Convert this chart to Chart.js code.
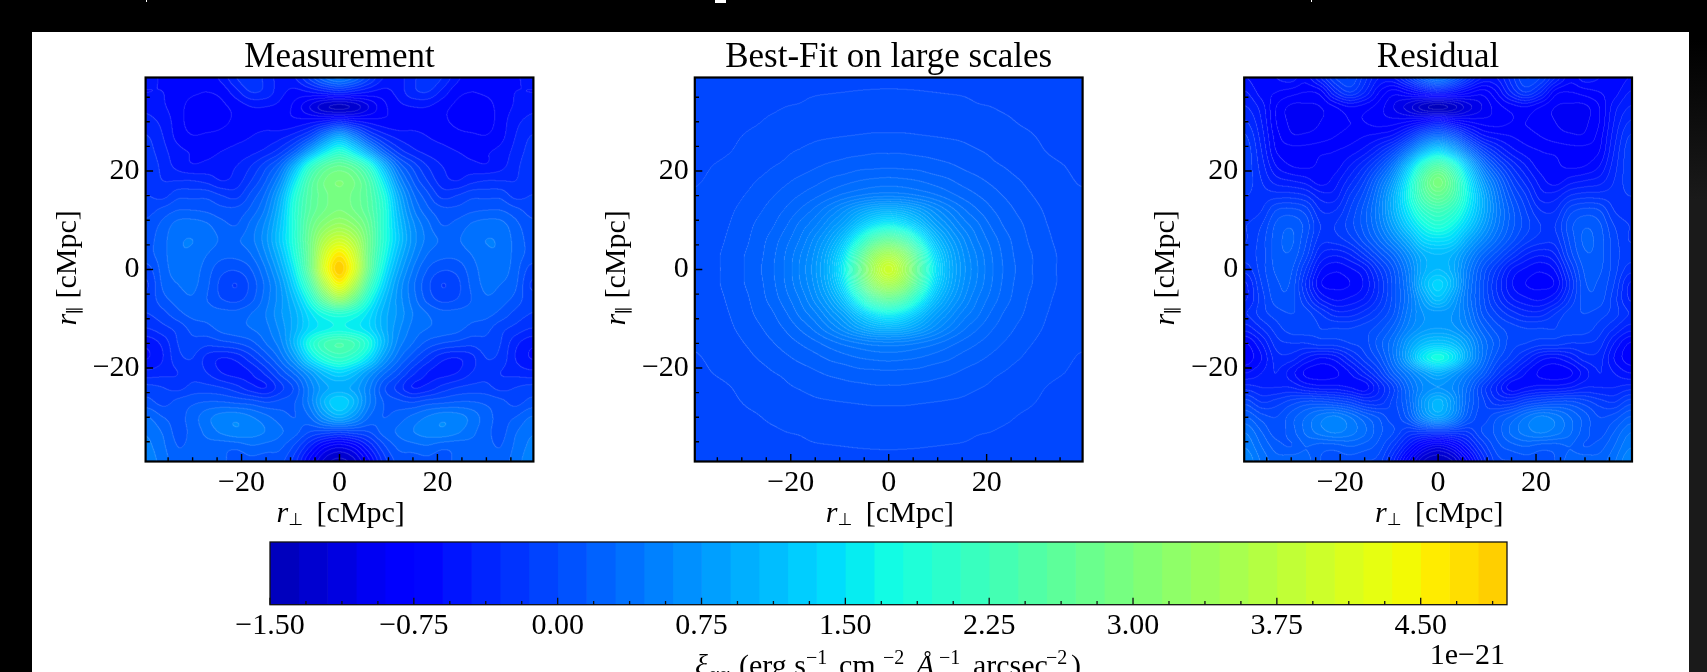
<!DOCTYPE html>
<html>
<head>
<meta charset="utf-8">
<script src="https://cdn.jsdelivr.net/npm/chart.js@4"></script>
<style>
html,body{margin:0;padding:0;background:#000;width:1707px;height:672px;overflow:hidden}
#sheet{position:absolute;left:32px;top:32px;width:1657px;height:640px;background:#fff}
#edge{position:absolute;left:1689px;top:0;width:18px;height:672px;background:linear-gradient(#000 40px,#1a1a1a 200px)}
.bit{position:absolute;background:#fff}
canvas{position:absolute}
</style>
</head>
<body>
<div id="sheet"></div><div id="edge"></div>
<div class="bit" style="left:715px;top:0;width:11px;height:3px"></div>
<div class="bit" style="left:146px;top:0;width:1px;height:2px"></div>
<div class="bit" style="left:1311px;top:0;width:1px;height:2px"></div>
<canvas id="c1" width="532" height="500" style="left:32px;top:32px"></canvas>
<canvas id="c2" width="532" height="500" style="left:582px;top:32px"></canvas>
<canvas id="c3" width="532" height="500" style="left:1131px;top:32px"></canvas>
<canvas id="cb" width="1657" height="200" style="left:32px;top:530px"></canvas>
<script>
// ---------- values ----------
const panelTitles = ['Measurement', 'Best-Fit on large scales', 'Residual'];
const rPerp = [0,3,6,9,12,15,18,21,24,27,30,33,36,39];              // |r_perp|, panels are mirror-symmetric
const rPar  = [39,36,33,30,27,24,21,18,15,12,9,6,3,0,-3,-6,-9,-12,-15,-18,-21,-24,-27,-30,-33,-36,-39];
const rParUpper = [39,36,33,30,27,24,21,18,15,12,9,6,3,0];          // best-fit is also up-down symmetric

const measurementRows = [
[.5,.3,-.1,-.45,-.5,-.35,-.15,-.3,-.55,-.7,-.65,-.6,-.62,-.55],
[-.4,-.5,-.6,-.65,-.55,-.35,-.3,-.5,-.7,-.75,-.72,-.65,-.6,-.6],
[-1.4,-1.3,-1.05,-.8,-.65,-.6,-.6,-.7,-.78,-.82,-.82,-.68,-.58,-.5],
[-.4,-.55,-.65,-.7,-.7,-.65,-.65,-.72,-.78,-.84,-.82,-.68,-.5,-.4],
[.9,.5,-.05,-.35,-.5,-.55,-.6,-.65,-.7,-.72,-.74,-.65,-.45,-.3],
[1.9,1.5,.85,.2,-.2,-.4,-.5,-.55,-.6,-.65,-.62,-.55,-.4,-.25],
[2.7,2.5,1.95,1.05,.3,-.05,-.3,-.45,-.5,-.55,-.58,-.5,-.35,-.2],
[3.0,2.85,2.4,1.55,.65,.15,-.15,-.38,-.45,-.35,-.3,-.3,-.3,-.2],
[2.95,2.8,2.5,1.85,.95,.35,.05,-.2,-.15,-.05,-.05,-.05,-.2,-.15],
[3.0,2.85,2.55,1.95,1.1,.5,.2,.05,.05,.12,.15,.15,.05,-.05],
[3.35,3.15,2.7,1.95,1.2,.65,.35,.15,.2,.32,.38,.36,.2,.05],
[3.95,3.6,2.8,1.95,1.25,.7,.4,.28,.28,.38,.45,.42,.25,.1],
[4.6,4.0,2.8,1.85,1.1,.6,.3,.2,.2,.3,.42,.42,.25,.1],
[4.9,4.15,2.75,1.65,.92,.45,.15,.02,.05,.22,.38,.38,.22,-.05],
[4.4,3.6,2.35,1.4,.75,.35,.05,-.15,-.05,.18,.34,.3,.18,-.15],
[3.3,2.75,1.85,1.15,.7,.38,.1,-.05,0,.15,.28,.22,.1,-.1],
[1.95,1.8,1.45,1.0,.72,.45,.3,.2,.2,.2,.2,.1,-.05,-.15],
[1.7,1.6,1.4,1.0,.65,.4,.3,.25,.2,.1,.05,-.1,-.2,-.3],
[2.4,2.25,1.8,1.1,.55,.3,.1,0,-.05,-.1,-.05,-.15,-.4,-.55],
[2.1,1.9,1.45,.8,.35,.05,-.2,-.4,-.45,-.35,-.15,-.2,-.45,-.6],
[1.35,1.15,.75,.35,.05,-.25,-.45,-.5,-.45,-.3,-.2,-.3,-.35,-.4],
[.95,.85,.5,.05,-.2,-.45,-.4,-.25,-.15,-.1,-.1,-.2,-.15,-.1],
[1.35,1.05,.5,.15,.05,0,.08,.12,.16,.16,.12,.05,-.05,.05],
[.95,.7,.3,.15,.22,.34,.46,.55,.52,.4,.22,.1,.15,.3],
[-.1,-.05,0,.2,.32,.44,.52,.56,.48,.35,.2,.1,.28,.42],
[-1.0,-.85,-.45,-.05,.18,.24,.28,.2,.2,.24,.2,.15,.33,.48],
[-1.4,-1.25,-.8,-.25,.05,.05,.1,.05,.2,.28,.28,.2,.38,.52]
];

const bestFitRows = [
[-.02,-.02,-.022,-.025,-.03,-.033,-.037,-.04,-.045,-.05,-.055,-.06,-.065,-.07],
[.006,.005,.003,0,-.003,-.006,-.012,-.018,-.025,-.03,-.04,-.05,-.06,-.065],
[.03,.03,.028,.025,.02,.015,.005,0,-.01,-.02,-.03,-.04,-.05,-.06],
[.05,.05,.048,.045,.04,.035,.03,.02,.01,-.005,-.015,-.03,-.04,-.05],
[.085,.085,.08,.075,.07,.065,.055,.045,.03,.015,0,-.015,-.03,-.04],
[.14,.14,.13,.125,.11,.095,.08,.065,.04,.03,.012,-.005,-.02,-.03],
[.21,.205,.2,.18,.165,.14,.115,.09,.07,.05,.03,.015,0,-.02],
[.33,.32,.3,.27,.24,.2,.17,.135,.1,.075,.05,.03,.015,-.005],
[.5,.49,.45,.4,.34,.28,.23,.185,.14,.1,.07,.045,.03,.01],
[1.0,.95,.82,.66,.52,.4,.31,.235,.18,.13,.09,.06,.035,.02],
[1.65,1.5,1.2,.88,.68,.51,.4,.29,.21,.16,.105,.07,.045,.025],
[2.65,2.4,1.8,1.2,.85,.63,.46,.345,.25,.18,.12,.08,.05,.03],
[3.5,3.2,2.4,1.5,1.0,.7,.52,.38,.27,.19,.14,.09,.06,.035],
[3.95,3.5,2.6,1.65,1.05,.73,.54,.39,.28,.2,.14,.09,.06,.035]
];

const residualRows = [
[.45,.2,-.2,-.5,-.5,-.25,0,-.1,-.4,-.65,-.55,-.6,-.7,-.6],
[-.5,-.6,-.75,-.85,-.7,-.4,-.2,-.4,-.75,-.8,-.75,-.7,-.65,-.5],
[-1.45,-1.35,-1.15,-1.0,-.85,-.75,-.7,-.8,-.9,-.92,-.92,-.8,-.55,-.4],
[-.55,-.7,-.8,-.85,-.85,-.8,-.8,-.85,-.9,-.94,-.92,-.8,-.5,-.3],
[.35,.15,-.25,-.55,-.65,-.7,-.75,-.8,-.85,-.88,-.88,-.75,-.45,-.2],
[1.4,1.05,.45,-.05,-.35,-.55,-.65,-.7,-.72,-.75,-.75,-.7,-.4,-.15],
[2.45,2.05,1.2,.45,0,-.3,-.5,-.65,-.68,-.72,-.7,-.6,-.35,-.15],
[2.95,2.5,1.6,.8,.3,-.1,-.35,-.55,-.65,-.55,-.5,-.45,-.3,-.15],
[2.7,2.4,1.7,1.0,.45,.05,-.2,-.45,-.45,-.3,-.25,-.25,-.25,-.2],
[2.25,2.05,1.55,1.0,.5,.15,-.1,-.3,-.3,-.05,.03,0,-.2,-.25],
[1.9,1.7,1.3,.85,.45,.15,-.05,-.2,-.2,.06,.18,.12,-.1,-.2],
[1.45,1.35,.95,.6,.3,.05,-.15,-.25,-.25,.02,.22,.15,-.05,-.2],
[1.1,1.0,.65,.3,.05,-.2,-.4,-.48,-.4,-.05,.18,.15,-.05,-.15],
[1.1,.95,.5,.1,-.2,-.5,-.62,-.68,-.58,-.2,.12,.12,-.05,-.25],
[1.35,1.05,.45,.05,-.3,-.58,-.7,-.72,-.68,-.3,.08,.08,-.1,-.4],
[1.15,.85,.4,.05,-.25,-.48,-.58,-.62,-.5,-.2,.05,.05,-.15,-.4],
[.75,.7,.45,.1,-.1,-.25,-.35,-.35,-.2,-.05,0,-.05,-.15,-.3],
[.8,.75,.55,.25,.05,-.05,-.1,-.1,-.1,-.05,-.05,-.15,-.3,-.45],
[1.2,1.1,.8,.4,.15,-.05,-.1,-.15,-.15,-.2,-.2,-.25,-.5,-.7],
[1.75,1.5,.9,.4,.05,-.15,-.35,-.55,-.6,-.5,-.35,-.35,-.6,-.75],
[1.0,.8,.5,.2,-.15,-.4,-.6,-.72,-.75,-.72,-.55,-.4,-.5,-.6],
[.7,.6,.3,-.1,-.4,-.65,-.6,-.55,-.55,-.5,-.4,-.4,-.4,-.35],
[1.05,.75,.25,-.05,-.25,-.25,-.1,-.02,.03,.03,-.05,-.15,-.2,-.05],
[.85,.6,.15,-.05,.08,.22,.4,.52,.45,.3,.15,0,.05,.2],
[-.2,-.2,-.2,0,.13,.32,.45,.52,.45,.32,.15,.05,.2,.38],
[-1.05,-.9,-.55,-.2,.05,.15,.2,.15,.15,.2,.1,.15,.3,.48],
[-1.4,-1.3,-.9,-.4,-.05,0,.05,.05,.1,.25,.28,.25,.38,.58]
];

const panelLevelSteps = [.15,.075,.1];
const levelEdges = [-1.5,-1.35,-1.2,-1.05,-.9,-.75,-.6,-.45,-.3,-.15,0,.15,.3,.45,.6,.75,.9,1.05,1.2,1.35,1.5,1.65,1.8,1.95,2.1,2.25,2.4,2.55,2.7,2.85,3.0,3.15,3.3,3.45,3.6,3.75,3.9,4.05,4.2,4.35,4.5,4.65,4.8,4.95];
const cbarMinorTicks = [-1.3125,-1.125,-.9375,-.5625,-.375,-.1875,.1875,.375,.5625,.9375,1.125,1.3125,1.6875,1.875,2.0625,2.4375,2.625,2.8125,3.1875,3.375,3.5625,3.9375,4.125,4.3125,4.6875,4.875];
const cbarOffsetText = '1e\u221221';

// ---------- colour map (jet limits as implied by the colour bar) ----------
const jetSeg = {
  r:[[0,0],[.35,0],[.66,1],[.89,1],[1,.5]],
  g:[[0,0],[.125,0],[.375,1],[.64,1],[.91,0],[1,0]],
  b:[[0,.5],[.11,1],[.34,1],[.65,0],[1,0]]
};
function seg(a,t){for(let i=1;i<a.length;i++){if(t<=a[i][0]){const f=(t-a[i-1][0])/(a[i][0]-a[i-1][0]);return a[i-1][1]+f*(a[i][1]-a[i-1][1]);}}return a[a.length-1][1];}
function colourOf(v){
  const t=(v+1.96)/9.9;
  return [seg(jetSeg.r,t),seg(jetSeg.g,t),seg(jetSeg.b,t)].map(c=>Math.round(c*255));
}
const bandCSS = levelEdges.slice(0,-1).map((e,i)=>{
  const c=colourOf((e+levelEdges[i+1])/2);
  return `rgb(${c[0]},${c[1]},${c[2]})`;
});

const SERIF = '"Liberation Serif","Times New Roman",serif';
Chart.defaults.font.family = SERIF;
Chart.defaults.color = '#000';

// ---------- field rendering ----------
function crom(p0,p1,p2,p3,f){return p1+.5*f*(p2-p0+f*(2*p0-5*p1+4*p2-p3+f*(3*(p1-p2)+p3-p0)));}
function sampler(rows,xs,ys,mirrorY){
  const nC=xs.length,nR=ys.length,dx=xs[1]-xs[0],dy=ys[0]-ys[1],y0=ys[0];
  const C=i=>i<0?-i:(i>nC-1?nC-1:i);
  const R=j=>j<0?0:(j>nR-1?(mirrorY?Math.max(0,2*(nR-1)-j):nR-1):j);
  return (xv,yv)=>{
    const u=Math.abs(xv)/dx, w=((y0-(mirrorY?Math.abs(yv):yv))/dy);
    const i=Math.floor(u), j=Math.floor(w), fu=u-i, fw=w-j;
    const col=[];
    for(let a=-1;a<=2;a++){
      const rr=rows[R(j+a)];
      col.push(crom(rr[C(i-1)],rr[C(i)],rr[C(i+1)],rr[C(i+2)],fu));
    }
    return crom(col[0],col[1],col[2],col[3],fw);
  };
}
const contourField = {
  id:'contourField',
  beforeDatasetsDraw(chart){
    const ds=chart.data.datasets[0], a=chart.chartArea, sx=chart.scales.x, sy=chart.scales.y;
    const S=2, W=Math.round((a.right-a.left)*S), H=Math.round((a.bottom-a.top)*S);
    const f=sampler(ds.rows,ds.colsAt,ds.rowsAt,ds.mirrorY);
    const xv=new Float64Array(W), yv=new Float64Array(H);
    for(let i=0;i<W;i++) xv[i]=sx.getValueForPixel(a.left+(i+.5)/S);
    for(let j=0;j<H;j++) yv[j]=sy.getValueForPixel(a.top+(j+.5)/S);
    const e0=levelEdges[0], e1=levelEdges[levelEdges.length-1], st=ds.levelStep, nB=Math.round((e1-e0)/st);
    const lut=[];for(let b=0;b<nB;b++) lut.push(colourOf(e0+(b+.5)*st));
    const band=new Int16Array(W*H);
    for(let j=0;j<H;j++)for(let i=0;i<W;i++){
      let b=Math.floor((f(xv[i],yv[j])-e0)/st);
      band[j*W+i]=b<0?0:(b>=nB?nB-1:b);
    }
    const off=document.createElement('canvas');off.width=W;off.height=H;
    const oc=off.getContext('2d'), img=oc.createImageData(W,H), d=img.data, L=.27;
    for(let j=0;j<H;j++)for(let i=0;i<W;i++){
      const k=j*W+i,b=band[k],c=lut[b];
      const edge=(i<W-1&&band[k+1]!==b)||(j<H-1&&band[k+W]!==b);
      const p=k*4;
      for(let q=0;q<3;q++) d[p+q]=edge?c[q]+(255-c[q])*L:c[q];
      d[p+3]=255;
    }
    oc.putImageData(img,0,0);
    const ctx=chart.ctx;
    ctx.save();ctx.imageSmoothingEnabled=true;ctx.imageSmoothingQuality='high';
    ctx.drawImage(off,a.left,a.top,a.right-a.left,a.bottom-a.top);
    ctx.restore();
  }
};
const frameAndTicks = {
  id:'frameAndTicks',
  afterDraw(chart){
    const ctx=chart.ctx,a=chart.chartArea,sx=chart.scales.x,sy=chart.scales.y;
    ctx.save();ctx.strokeStyle='#000';ctx.lineWidth=1.4;ctx.beginPath();
    sx.ticks.forEach(t=>{const p=sx.getPixelForValue(t.value),l=t.value%20===0?7.5:4.2;ctx.moveTo(p,a.bottom);ctx.lineTo(p,a.bottom-l);});
    sy.ticks.forEach(t=>{const p=sy.getPixelForValue(t.value),l=t.value%20===0?7.5:4.2;ctx.moveTo(a.left,p);ctx.lineTo(a.left+l,p);});
    ctx.stroke();
    ctx.lineWidth=2.2;ctx.strokeRect(a.left,a.top,a.right-a.left,a.bottom-a.top);
    ctx.restore();
  }
};
function piece(ctx,text,font,x,y){ctx.font=font;ctx.fillText(text,x,y);}
const axisLabels = {
  id:'axisLabels',
  afterDraw(chart){
    const ctx=chart.ctx,a=chart.chartArea,cx=(a.left+a.right)/2,cy=(a.top+a.bottom)/2;
    const it='italic 30px '+SERIF,rm='30px '+SERIF,sb='17px "DejaVu Sans",sans-serif';
    ctx.save();ctx.fillStyle='#000';ctx.textBaseline='alphabetic';ctx.textAlign='left';
    const yb=a.bottom+60.2;
    piece(ctx,'r',it,cx-63,yb);
    piece(ctx,'\u22A5',sb,cx-51,yb+3);
    piece(ctx,'[cMpc]',rm,cx-23,yb);
    ctx.translate(a.left-70,cy+56);ctx.rotate(-Math.PI/2);
    piece(ctx,'r',it,0,0);
    piece(ctx,'\u2225',sb,11,3);
    piece(ctx,'[cMpc]',rm,27,0);
    ctx.restore();
  }
};
const rTick = v => (v%20===0 ? String(v).replace('-','\u2212') : '');

function panel(id,title,rows,rowsAt,mirrorY,levelStep,frameL){
  const cv=document.getElementById(id), cl=parseFloat(cv.style.left), F=[frameL,frameL+387.8];
  const points=[];
  rowsAt.forEach((y,j)=>rPerp.forEach((x,i)=>points.push({x,y,v:rows[j][i]})));
  new Chart(cv,{
    type:'scatter',
    data:{datasets:[{label:title,data:points,rows,rowsAt,colsAt:rPerp,mirrorY,levelStep,pointRadius:0,pointHoverRadius:0,showLine:false}]},
    plugins:[contourField,frameAndTicks,axisLabels],
    options:{
      responsive:false,animation:false,devicePixelRatio:1,events:[],
      layout:{padding:{top:8.5,left:F[0]-cl-60,right:cv.width-(F[1]-cl),bottom:500-(461.5-32)-50}},
      plugins:{
        legend:{display:false},tooltip:{enabled:false},
        title:{display:true,text:title,fullSize:false,color:'#000',font:{size:35,weight:'normal',lineHeight:1},padding:{top:0,bottom:2}}
      },
      scales:{
        x:{type:'linear',min:-39.6,max:39.6,
           grid:{display:false,drawTicks:false},border:{display:false},
           afterFit:s=>{s.height=50;},
           ticks:{stepSize:5,includeBounds:false,autoSkip:false,maxRotation:0,padding:4,font:{size:30},color:'#000',callback:rTick}},
        y:{type:'linear',min:-39,max:39,
           grid:{display:false,drawTicks:false},border:{display:false},
           afterFit:s=>{s.width=60;},
           ticks:{stepSize:5,includeBounds:false,autoSkip:false,padding:6,font:{size:30},color:'#000',callback:rTick}}
      }
    }
  });
}
panel('c1',panelTitles[0],measurementRows,rPar,false,panelLevelSteps[0],145.6);
panel('c2',panelTitles[1],bestFitRows,rParUpper,true,panelLevelSteps[1],694.8);
panel('c3',panelTitles[2],residualRows,rPar,false,panelLevelSteps[2],1244.2);

// ---------- colour bar ----------
const cbarDecor = {
  id:'cbarDecor',
  afterDraw(chart){
    const ctx=chart.ctx,a=chart.chartArea,sx=chart.scales.x;
    ctx.save();ctx.strokeStyle='#111';ctx.lineWidth=1.3;ctx.beginPath();
    sx.ticks.forEach(t=>{const p=sx.getPixelForValue(t.value);ctx.moveTo(p,a.bottom);ctx.lineTo(p,a.bottom-7);});
    cbarMinorTicks.forEach(v=>{const p=sx.getPixelForValue(v);ctx.moveTo(p,a.bottom);ctx.lineTo(p,a.bottom-3.6);});
    ctx.stroke();
    ctx.strokeRect(a.left,a.top,a.right-a.left,a.bottom-a.top);
    ctx.fillStyle='#000';ctx.textBaseline='alphabetic';ctx.textAlign='right';
    piece(ctx,cbarOffsetText,'30px '+SERIF,1505-32,664-530);
    ctx.textAlign='left';
    const X=v=>v-32, B=674.5-530, it='italic 30px '+SERIF, rm='30px '+SERIF, su='20px '+SERIF, si='italic 20px '+SERIF;
    piece(ctx,'\u03BE',it,X(695),B);
    piece(ctx,'\u03B1\u03B1',si,X(708),B+6);
    piece(ctx,'(erg s',rm,X(739),B);
    piece(ctx,'\u22121',su,X(806),B-11);
    piece(ctx,'cm',rm,X(839),B);
    piece(ctx,'\u22122',su,X(883),B-11);
    piece(ctx,'\u00C5',it,X(916),B);
    piece(ctx,'\u22121',su,X(939),B-11);
    piece(ctx,'arcsec',rm,X(973),B);
    piece(ctx,'\u22122',su,X(1046),B-11);
    piece(ctx,')',rm,X(1071),B);
    ctx.restore();
  }
};
new Chart(document.getElementById('cb'),{
  type:'bar',
  data:{labels:['\u03BE'],datasets:levelEdges.slice(0,-1).map((e,i)=>({
    label:e.toFixed(2),data:[[e,levelEdges[i+1]]],backgroundColor:bandCSS[i],borderWidth:0,grouped:false,barPercentage:1,categoryPercentage:1
  }))},
  plugins:[cbarDecor],
  options:{
    indexAxis:'y',responsive:false,animation:false,devicePixelRatio:1,events:[],
    layout:{padding:{left:238,right:1657-(1507-32),top:12,bottom:200-(604.7-530)-60}},
    plugins:{legend:{display:false},tooltip:{enabled:false},title:{display:false}},
    scales:{
      y:{type:'category',display:false,grid:{display:false}},
      x:{type:'linear',min:levelEdges[0],max:levelEdges[levelEdges.length-1],
         grid:{display:false,drawTicks:false},border:{display:false},
         afterFit:s=>{s.height=60;},
         ticks:{stepSize:.75,includeBounds:false,autoSkip:false,maxRotation:0,padding:3,font:{size:30},color:'#000',
                callback:v=>v.toFixed(2).replace('-','\u2212')}}
    }
  }
});
</script>
</body>
</html>
